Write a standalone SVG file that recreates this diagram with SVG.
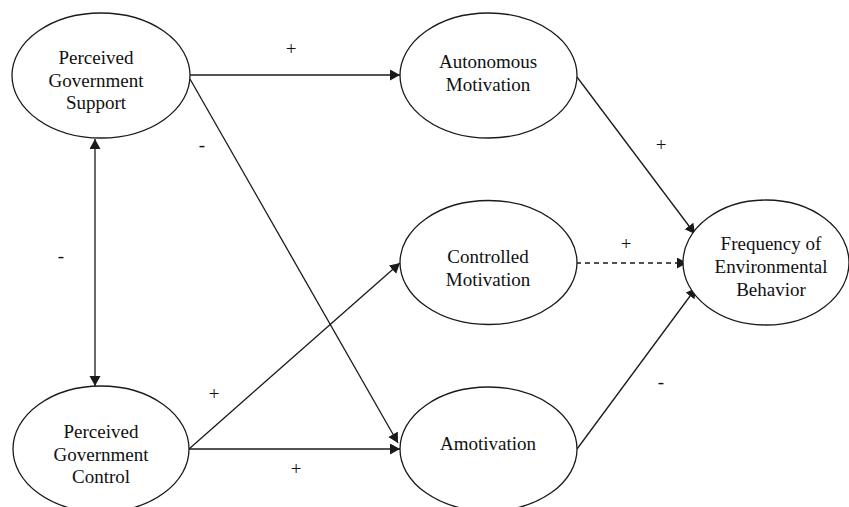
<svg xmlns="http://www.w3.org/2000/svg" width="849" height="507" viewBox="0 0 849 507">
<style>
.node ellipse{fill:#fff;stroke:#1a1a1a;stroke-width:1.3}
text{font-family:"Liberation Serif","Times New Roman",serif;font-size:19px;fill:#111;text-anchor:middle}
.conn line{stroke:#1a1a1a;stroke-width:1.3;fill:none}
.dash{stroke-dasharray:5,4}
</style>
<defs>
<marker id="ah" markerUnits="userSpaceOnUse" markerWidth="12" markerHeight="12" refX="10" refY="5.5" orient="auto-start-reverse">
<path d="M0,0 L10,5.5 L0,11 z" fill="#1a1a1a"/>
</marker>
</defs>
<rect width="849" height="507" fill="#fff"/>
<g id="connectors" class="conn">
<line x1="190" y1="75" x2="400" y2="75" marker-end="url(#ah)"/>
<line x1="190" y1="79" x2="398" y2="443" marker-end="url(#ah)"/>
<line x1="95" y1="139" x2="95" y2="386" marker-start="url(#ah)" marker-end="url(#ah)"/>
<line x1="189" y1="449" x2="400" y2="263" marker-end="url(#ah)"/>
<line x1="189" y1="449" x2="400" y2="449" marker-end="url(#ah)"/>
<line x1="577" y1="77" x2="695" y2="234" marker-end="url(#ah)"/>
<line class="dash" x1="576" y1="263" x2="687" y2="263" marker-end="url(#ah)"/>
<line x1="577" y1="449" x2="696" y2="288" marker-end="url(#ah)"/>
</g>
<g id="labels">
<text x="291" y="55">+</text>
<text x="202" y="151">-</text>
<text x="61" y="262">-</text>
<text x="214" y="400">+</text>
<text x="296" y="475">+</text>
<text x="661" y="151">+</text>
<text x="626" y="250">+</text>
<text x="661" y="388">-</text>
</g>
<g id="pgs" class="node">
<ellipse cx="101" cy="75.5" rx="89" ry="62.5"/>
<text x="96" y="64">Perceived</text>
<text x="96" y="86.5">Government</text>
<text x="96" y="109">Support</text>
</g>
<g id="pgc" class="node">
<ellipse cx="101" cy="449" rx="88" ry="63"/>
<text x="101" y="438">Perceived</text>
<text x="101" y="460.5">Government</text>
<text x="101" y="483">Control</text>
</g>
<g id="am" class="node">
<ellipse cx="488.5" cy="75.5" rx="88.5" ry="62.5"/>
<text x="488" y="68">Autonomous</text>
<text x="488" y="91">Motivation</text>
</g>
<g id="cm" class="node">
<ellipse cx="488.5" cy="262.5" rx="88.5" ry="62"/>
<text x="488" y="263">Controlled</text>
<text x="488" y="286">Motivation</text>
</g>
<g id="amot" class="node">
<ellipse cx="488.5" cy="449" rx="88.5" ry="62"/>
<text x="488" y="450">Amotivation</text>
</g>
<g id="freq" class="node">
<ellipse cx="766" cy="262.5" rx="83" ry="62.5"/>
<text x="771" y="250">Frequency of</text>
<text x="771" y="273">Environmental</text>
<text x="771" y="296">Behavior</text>
</g>
</svg>
